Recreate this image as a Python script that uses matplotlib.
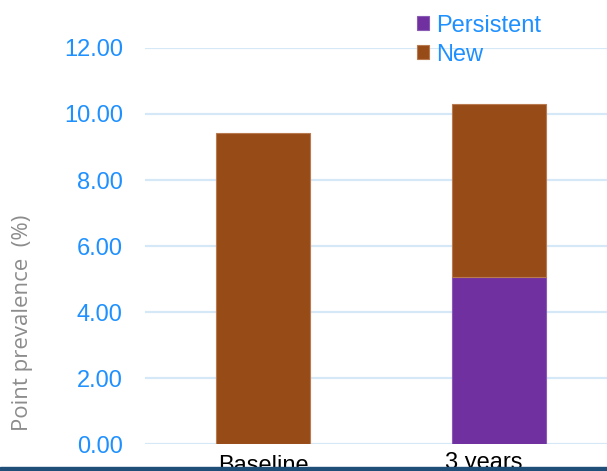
import matplotlib.pyplot as plt
from matplotlib.patches import Rectangle

periods = ["Baseline", "3 years"]
persistent = [0.0, 5.06]
new = [9.42, 5.24]

brown = "#974B17"
purple = "#7030A0"
blue = "#1E90FF"

plt.rcParams['font.family'] = ['Liberation Sans', 'DejaVu Sans']

fig = plt.figure(figsize=(6.07, 4.71), dpi=100)
ax = fig.add_axes([0.2389, 0.0573, 0.7611, 0.8408])

x = range(len(periods))
ax.bar(x, persistent, width=0.4, color=purple, edgecolor="#8a5bb5", linewidth=0.8,
       label="Persistent", zorder=3)
ax.bar(x, new, width=0.4, bottom=persistent, color=brown, edgecolor="#b97a4f",
       linewidth=0.8, label="New", zorder=3)

ax.set_ylim(0, 12)
ax.set_xlim(-0.5, 1.458)
ax.set_yticks([0, 2, 4, 6, 8, 10, 12])
ax.set_yticklabels([f"{v:.2f}" for v in [0, 2, 4, 6, 8, 10, 12]], color=blue, fontsize=17)
ax.set_xticks([])
ax.tick_params(axis="both", length=0)
ax.tick_params(axis="y", pad=16)
ax.yaxis.grid(True, color="#D5E8F8", linewidth=1.6, zorder=0)
ax.set_axisbelow(True)
for s in ax.spines.values():
    s.set_visible(False)

# category labels under the bars (second one sits a little left and higher)
label_offsets = [(0, -8), (-11, -5.5)]
for i, (name, (dx, dy)) in enumerate(zip(periods, label_offsets)):
    ax.annotate(name, xy=(i, 0), xycoords=("data", "axes fraction"),
                xytext=(dx, dy), textcoords="offset points",
                ha="center", va="top", fontsize=17, color="black",
                annotation_clip=False)

fig.text(0.037, 0.314, "Point prevalence  (%)", rotation=90, color="#8c8c8c",
         fontsize=16, family=["Open Sans", "DejaVu Sans"], ha="center", va="center")

handles, labels = ax.get_legend_handles_labels()
fig.legend(handles, labels, loc="upper left", bbox_to_anchor=(0.672, 0.989),
           frameon=False, fontsize=17, labelcolor=blue, handlelength=0.5,
           handleheight=0.55, handletextpad=0.3, labelspacing=0.3, borderaxespad=0)

# dark strip along the bottom edge
fig.patches.append(Rectangle((0, 0), 1, 4 / 471, transform=fig.transFigure,
                             color="#1F4E79", zorder=10))

fig.savefig("out.png", dpi=100)
